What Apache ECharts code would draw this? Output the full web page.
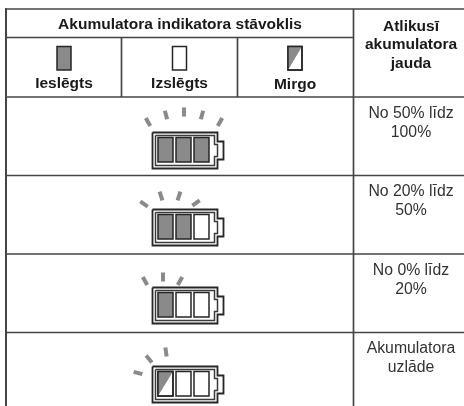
<!DOCTYPE html>
<html><head><meta charset="utf-8">
<style>html,body{margin:0;padding:0;background:#fff}#c{width:464px;height:406px}</style>
<script src="https://cdn.jsdelivr.net/npm/echarts@6/dist/echarts.min.js"></script>
</head><body><div id="c"></div>
<script>
// --- content ---
const headerMain = 'Akumulatora indikatora stāvoklis';
const headerSide = ['Atlikusī', 'akumulatora', 'jauda'];
const legendLabels = ['Ieslēgts', 'Izslēgts', 'Mirgo'];
const legendStates = ['on', 'off', 'blink'];
const rowLabels = [['No 50% līdz', '100%'], ['No 20% līdz', '50%'], ['No 0% līdz', '20%'], ['Akumulatora', 'uzlāde']];
const rowCells = [['on','on','on'], ['on','on','off'], ['on','off','off'], ['blink','off','off']];
const rowRayAngles = [[-30,-15,0,15,30], [-55,-18,18,55], [-30,0,30], [-75,-40,-8]];

// --- layout ---
const DARK = '#262626', GRAY = '#8a8a8a', RULE = '#454545';
const ROW_Y = [97, 175.5, 254, 332.5];
const BAT_TOP = [132, 209, 287, 366];
const RAY_POS = [
  [[148,122],[166,115],[184,112],[202,115],[220,122]],
  [[144,204],[161,196],[179,196],[196,203]],
  [[145,281],[163,277],[180,281]],
  [[138,373],[149,359],[166,352]]
];
const FONT = '"Liberation Sans", Arial, sans-serif';

function cellShapes(api, state, x, y, w, h, stroke) {
  const p = api.coord([x, y]);
  const out = [];
  if (state === 'on') {
    out.push({type:'rect', shape:{x:p[0], y:p[1], width:w, height:h}, style:{fill:GRAY, stroke:stroke, lineWidth:1.5}});
  } else {
    out.push({type:'rect', shape:{x:p[0], y:p[1], width:w, height:h}, style:{fill:'#fff', stroke:stroke, lineWidth:1.5}});
    if (state === 'blink') {
      out.push({type:'polygon', shape:{points:[[p[0],p[1]],[p[0]+w,p[1]],[p[0],p[1]+h]]}, style:{fill:GRAY, stroke:null}});
      out.push({type:'rect', shape:{x:p[0], y:p[1], width:w, height:h}, style:{fill:null, stroke:stroke, lineWidth:1.5}});
    }
  }
  return out;
}
function text(api, x, y, s, bold) {
  const p = api.coord([x, y]);
  return {type:'text', style:{x:p[0], y:p[1], text:s, align:'center', verticalAlign:'middle',
    fill: bold ? '#1a1a1a' : '#333', font:(bold?'bold 15.5px ':'15.8px ')+FONT}};
}
function line(api, x1, y1, x2, y2, w) {
  const a = api.coord([x1,y1]), b = api.coord([x2,y2]);
  return {type:'line', shape:{x1:a[0],y1:a[1],x2:b[0],y2:b[1]}, style:{stroke:RULE, lineWidth:w||1.7}};
}
function renderFrame(params, api) {
  const ch = [
    line(api, 6, 9, 464, 9), line(api, 6, 37.5, 353, 37.5),
    line(api, 6, 97, 464, 97), line(api, 6, 8, 6, 406, 2),
    line(api, 121.5, 37.5, 121.5, 97), line(api, 237.5, 37.5, 237.5, 97),
    line(api, 353.5, 9, 353.5, 406),
    text(api, 180, 25, headerMain, true)
  ];
  headerSide.forEach((s,i)=>ch.push(text(api, 411, 26.5+i*18.7, s, true)));
  const lx = [64, 179.5, 295], ly=[84, 83.5, 85];
  legendLabels.forEach((s,i)=>{
    ch.push(text(api, lx[i], ly[i], s, true));
    ch.push(...cellShapes(api, legendStates[i], lx[i]-7, 46.5, 14, 23.5, DARK));
  });
  return {type:'group', children:ch};
}
function renderRow(params, api) {
  const i = api.value(0);
  const top = BAT_TOP[i], ch = [];
  if (i > 0) ch.push(line(api, 6, ROW_Y[i], 464, ROW_Y[i]));
  rowLabels[i].forEach((s,k)=>ch.push(text(api, 411, ROW_Y[i]+16.5+k*18.7, s, false)));
  // rays
  rowRayAngles[i].forEach((ang,k)=>{
    const [x,y] = RAY_POS[i][k];
    const r = ang*Math.PI/180, dx = Math.sin(r)*4.5, dy = -Math.cos(r)*4.5;
    const a = api.coord([x-dx,y-dy]), b = api.coord([x+dx,y+dy]);
    ch.push({type:'line', shape:{x1:a[0],y1:a[1],x2:b[0],y2:b[1]}, style:{stroke:GRAY, lineWidth:4}});
  });
  // shell
  const o = api.coord([152.5, top+0.5]);
  const shell = (x,y,w,h,ny,nh,nw,col,lw)=>({type:'polyline', shape:{points:[
    [x,y],[x+w,y],[x+w,ny],[x+w+nw,ny],[x+w+nw,ny+nh],[x+w,ny+nh],[x+w,y+h],[x,y+h],[x,y]]},
    style:{fill:'#fff', stroke:col, lineWidth:lw}});
  ch.push(shell(o[0],o[1],65,36,o[1]+9,18,6,DARK,1.8));
  ch.push(shell(o[0]+3,o[1]+3,59,30,o[1]+12,12,3,'#3a3a3a',1.5));
  // cells
  rowCells[i].forEach((st,k)=>ch.push(...cellShapes(api, st, 158+k*18, top+5.5, 15, 24.5, DARK)));
  return {type:'group', children:ch};
}
const chart = echarts.init(document.getElementById('c'), null, {renderer:'canvas'});
chart.setOption({
  animation:false,
  grid:{left:0,right:0,top:0,bottom:0},
  xAxis:{type:'value',min:0,max:464,show:false},
  yAxis:{type:'value',min:0,max:406,inverse:true,show:false},
  series:[
    {type:'custom',coordinateSystem:'cartesian2d',silent:true,data:[[0]],renderItem:renderFrame,clip:false},
    {type:'custom',coordinateSystem:'cartesian2d',silent:true,data:rowLabels.map((_,i)=>[i]),renderItem:renderRow,clip:false}
  ]
});
</script></body></html>
